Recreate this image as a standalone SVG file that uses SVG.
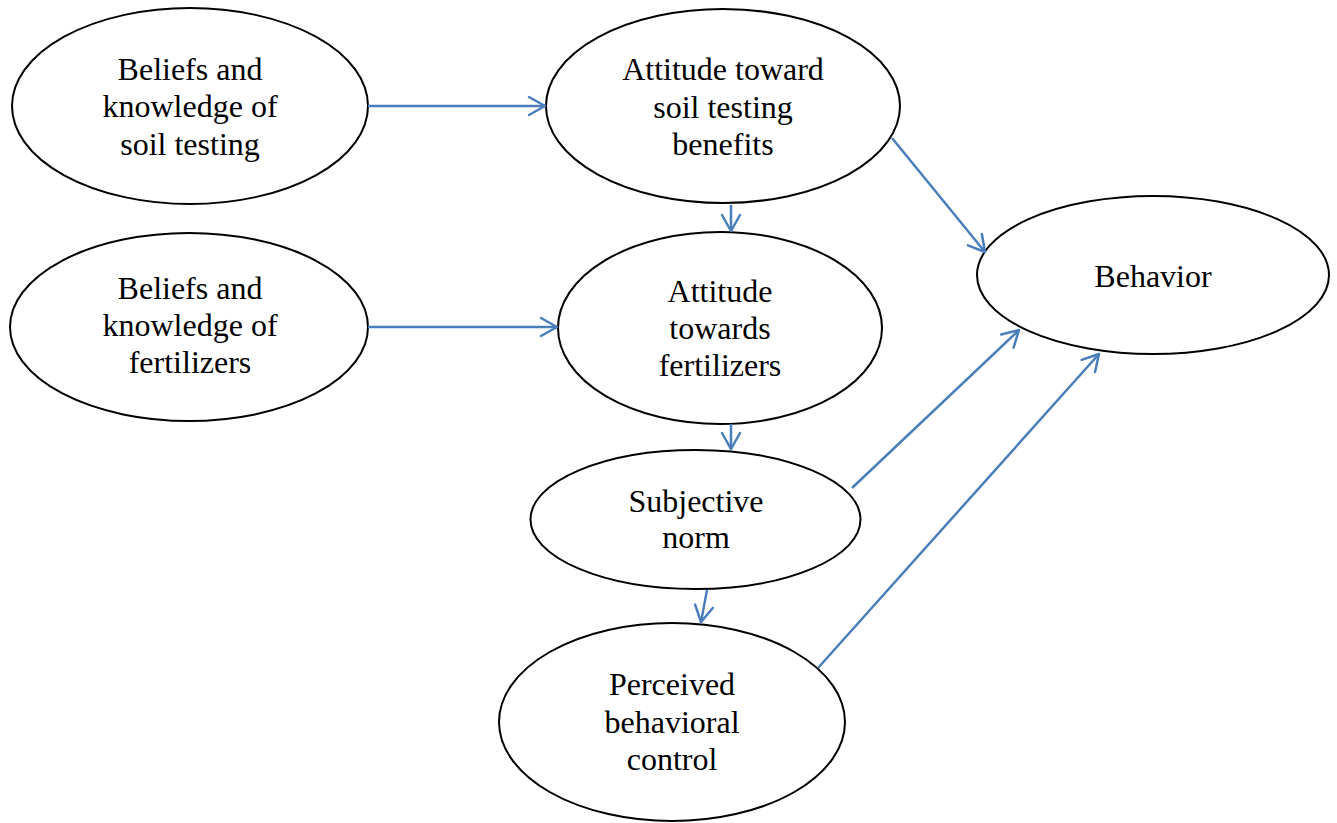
<svg xmlns="http://www.w3.org/2000/svg" width="1337" height="823" viewBox="0 0 1337 823">
<defs>
<style>
.node ellipse{fill:#fff;stroke:#000;stroke-width:2}
.node text{font-family:"Liberation Serif","Times New Roman",serif;font-size:32px;fill:#000;text-anchor:middle}
.conn line{stroke:#4A7EBB;stroke-width:2.5;fill:none}
</style>
<marker id="arr" markerUnits="userSpaceOnUse" markerWidth="22" markerHeight="22" viewBox="0 0 22 22" refX="18" refY="11" orient="auto">
<path d="M2,2 L18,11 L2,20" fill="none" stroke="#4A7EBB" stroke-width="2.5" stroke-linecap="round" stroke-linejoin="round"/>
</marker>
</defs>
<rect width="1337" height="823" fill="#fff"/>
<g id="n1" class="node">
<ellipse cx="190" cy="106" rx="178" ry="98"/>
<text x="190" y="80">Beliefs and</text>
<text x="190" y="117">knowledge of</text>
<text x="190" y="155">soil testing</text>
</g>
<g id="n2" class="node">
<ellipse cx="723" cy="106" rx="177" ry="97"/>
<text x="723" y="80">Attitude toward</text>
<text x="723" y="118">soil testing</text>
<text x="723" y="155">benefits</text>
</g>
<g id="n3" class="node">
<ellipse cx="189" cy="327" rx="179" ry="94"/>
<text x="190" y="299">Beliefs and</text>
<text x="190" y="336">knowledge of</text>
<text x="190" y="373">fertilizers</text>
</g>
<g id="n4" class="node">
<ellipse cx="720" cy="328" rx="162" ry="96"/>
<text x="720" y="302">Attitude</text>
<text x="720" y="339">towards</text>
<text x="720" y="376">fertilizers</text>
</g>
<g id="n5" class="node">
<ellipse cx="1153" cy="275" rx="176" ry="79"/>
<text x="1153" y="287">Behavior</text>
</g>
<g id="n6" class="node">
<ellipse cx="695.5" cy="519.5" rx="165" ry="69.5"/>
<text x="696" y="512">Subjective</text>
<text x="696" y="548">norm</text>
</g>
<g id="n7" class="node">
<ellipse cx="672" cy="722" rx="173" ry="99"/>
<text x="672" y="695">Perceived</text>
<text x="672" y="733">behavioral</text>
<text x="672" y="770">control</text>
</g>
<g id="connectors" class="conn">
<line x1="368" y1="106" x2="545" y2="106" marker-end="url(#arr)"/>
<line x1="368" y1="327" x2="557" y2="327" marker-end="url(#arr)"/>
<line x1="731" y1="205" x2="731" y2="231" marker-end="url(#arr)"/>
<line x1="731" y1="424" x2="731" y2="449" marker-end="url(#arr)"/>
<line x1="707" y1="590" x2="701" y2="622" marker-end="url(#arr)"/>
<line x1="892" y1="138" x2="985" y2="252" marker-end="url(#arr)"/>
<line x1="852" y1="488" x2="1019" y2="330" marker-end="url(#arr)"/>
<line x1="818" y1="668" x2="1099" y2="354" marker-end="url(#arr)"/>
</g>
</svg>
